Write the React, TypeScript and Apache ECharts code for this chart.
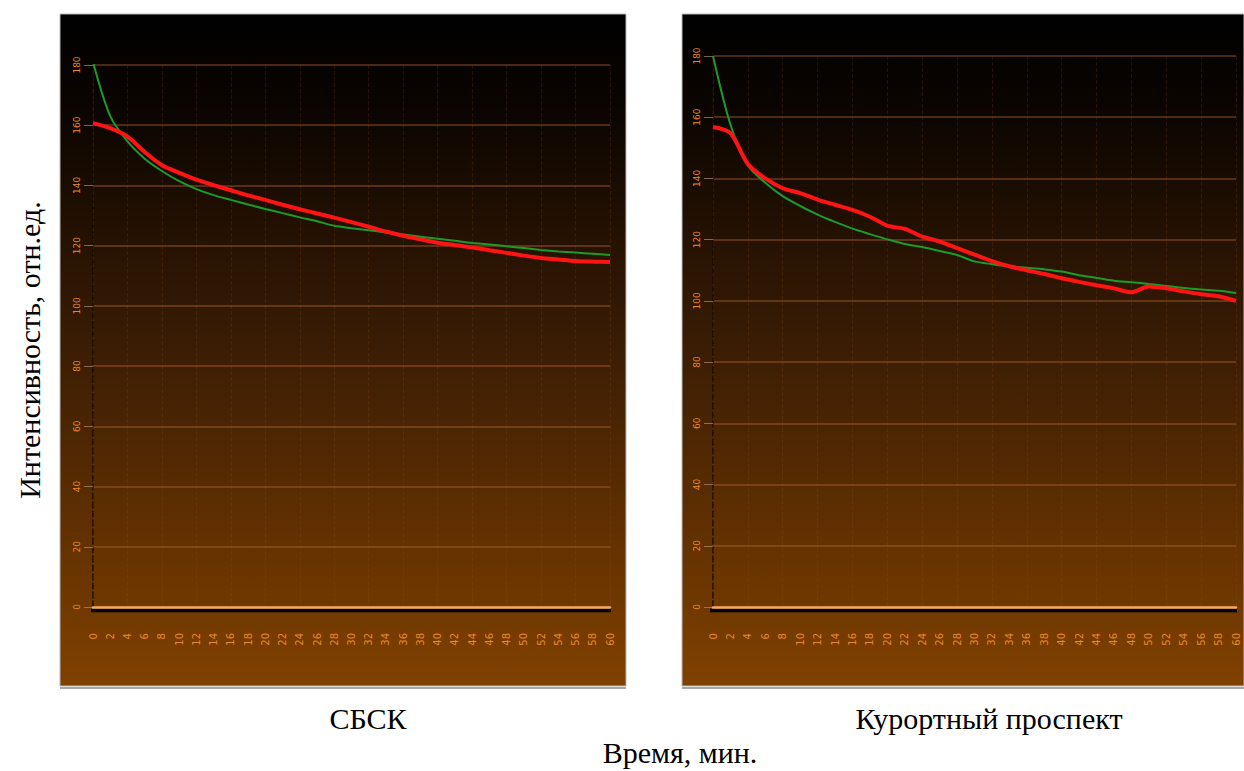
import React, { useEffect, useRef } from "react";
import * as echarts from "echarts";

// Time, min (tick labels of both panels)
const minutes: string[] = [
  "0","2","4","6","8","10","12","14","16","18","20","22","24","26","28","30",
  "32","34","36","38","40","42","44","46","48","50","52","54","56","58","60",
];

// Y scale
const yMin = 0;
const yMax = 180;
const yStep = 20;

// СБСК panel
const sbskRed: number[] = [
  160.7,159,156.2,151.1,146.7,144.2,141.9,140.1,138.4,136.7,135.2,133.6,132.1,130.7,129.3,127.8,
  126.3,124.7,123.3,122.1,121.0,120.2,119.4,118.5,117.6,116.7,115.9,115.4,114.9,114.7,114.6,
];
const sbskGreen: number[] = [
  181,163,154.6,148.9,144.8,141.4,138.8,136.8,135.2,133.7,132.2,130.8,129.4,128.1,126.6,125.8,
  125.1,124.4,123.7,123.0,122.3,121.6,120.9,120.4,119.8,119.2,118.6,118.1,117.7,117.3,116.9,
];

// Курортный проспект panel
const kurRed: number[] = [
  156.8,154.8,144.7,140.0,136.8,135.2,133.1,131.4,129.7,127.5,124.6,123.5,121.0,119.4,117.2,115.1,
  113.0,111.3,110.0,108.8,107.4,106.2,105.1,104.1,102.8,104.7,104.1,103.1,102.2,101.5,100,
];
const kurGreen: number[] = [
  180,157.6,144.2,138.6,134.2,131.0,128.2,125.8,123.6,121.8,120.1,118.6,117.6,116.3,115.0,112.9,
  112.0,111.3,110.8,110.3,109.6,108.4,107.5,106.6,106.1,105.5,104.9,104.2,103.7,103.3,102.6,
];

const panelTitles = ["СБСК", "Курортный проспект"];
const xTitle = "Время, мин.";
const yTitle = "Интенсивность, отн.ед.";

const W = 1244;
const H = 771;

export default function App() {
  const ref = useRef<HTMLDivElement>(null);

  useEffect(() => {
    if (!ref.current) return;
    const chart = echarts.init(ref.current, undefined, { renderer: "svg", width: W, height: H });

    const bgGrad = new echarts.graphic.LinearGradient(0, 0, 0, 1, [
      { offset: 0, color: "#000000" },
      { offset: 0.15, color: "#0c0500" },
      { offset: 0.5, color: "#3b1d04" },
      { offset: 0.85, color: "#6c3600" },
      { offset: 1, color: "#804100" },
    ]);

    const grids = [
      { left: 93, width: 517, top: 65, height: 542 },
      { left: 713, width: 523, top: 56, height: 551 },
    ];

    const xAxis = grids.map((_, i) => ({
      type: "category" as const,
      gridIndex: i,
      data: minutes,
      boundaryGap: false,
      z: 5,
      axisLine: {
        show: true,
        onZero: false,
        lineStyle: { color: "#f4a862", width: 2.5 },
      },
      axisTick: { show: false },
      axisLabel: {
        interval: 0,
        rotate: 90,
        color: "#e8892a",
        fontSize: 10,
        margin: 26,
        fontFamily: "DejaVu Sans",
      },
      splitLine: {
        show: true,
        interval: 1,
        lineStyle: { color: "rgba(150,90,40,0.18)", type: "dashed", width: 1 },
      },
    }));

    const yAxis = grids.map((_, i) => ({
      type: "value" as const,
      gridIndex: i,
      min: yMin,
      max: yMax,
      interval: yStep,
      axisLine: {
        show: true,
        lineStyle: { color: "#1a0b00", type: "dashed", width: 1.5 },
      },
      axisTick: {
        show: true,
        length: 9,
        lineStyle: { color: "rgba(170,140,120,0.7)", width: 1 },
      },
      axisLabel: {
        rotate: 90,
        color: "#e8892a",
        fontSize: 9,
        margin: 12,
        fontFamily: "DejaVu Sans",
      },
      splitLine: {
        show: true,
        lineStyle: { color: "rgba(190,105,45,0.5)", width: 1.5 },
      },
    }));

    const mkLine = (data: number[], idx: number, color: string, width: number, name: string) => ({
      type: "line" as const,
      name,
      xAxisIndex: idx,
      yAxisIndex: idx,
      data,
      smooth: 0.3,
      showSymbol: false,
      symbol: "none",
      lineStyle: { color, width },
    });

    const serifText = (text: string, x: number, y: number, rotation = 0) => ({
      type: "text" as const,
      x,
      y,
      rotation,
      style: {
        text,
        fill: "#000000",
        font: "30px 'Liberation Serif', 'DejaVu Serif', serif",
        textAlign: "center",
        textVerticalAlign: "middle",
      },
    });

    chart.setOption({
      animation: false,
      backgroundColor: "#ffffff",
      grid: grids,
      xAxis,
      yAxis,
      series: [
        mkLine(sbskGreen, 0, "#1e9a28", 2, "green-1"),
        mkLine(sbskRed, 0, "#ff1414", 4, "red-1"),
        mkLine(kurGreen, 1, "#1e9a28", 2, "green-2"),
        mkLine(kurRed, 1, "#ff1414", 4, "red-2"),
      ],
      graphic: [
        {
          type: "rect",
          z: -10,
          silent: true,
          shape: { x: 60, y: 14, width: 566, height: 672 },
          style: { fill: bgGrad, stroke: "#b8b8b8", lineWidth: 1 },
        },
        {
          type: "rect",
          z: -10,
          silent: true,
          shape: { x: 682, y: 14, width: 562, height: 672 },
          style: { fill: bgGrad, stroke: "#b8b8b8", lineWidth: 1 },
        },
        // black shadow under the baselines
        {
          type: "line",
          z: 0,
          silent: true,
          shape: { x1: 91, y1: 610.5, x2: 611, y2: 610.5 },
          style: { stroke: "#000000", lineWidth: 3.5 },
        },
        {
          type: "line",
          z: 0,
          silent: true,
          shape: { x1: 710, y1: 610.5, x2: 1237, y2: 610.5 },
          style: { stroke: "#000000", lineWidth: 3.5 },
        },
        {
          type: "line",
          z: -9,
          silent: true,
          shape: { x1: 60, y1: 688, x2: 626, y2: 688 },
          style: { stroke: "#a8a8a8", lineWidth: 2 },
        },
        {
          type: "line",
          z: -9,
          silent: true,
          shape: { x1: 682, y1: 688, x2: 1244, y2: 688 },
          style: { stroke: "#a8a8a8", lineWidth: 2 },
        },
        serifText(panelTitles[0], 368, 718),
        serifText(panelTitles[1], 989, 718),
        serifText(xTitle, 680, 752),
        serifText(yTitle, 29, 350, Math.PI / 2),
      ],
    });

    return () => {
      chart.dispose();
    };
  }, []);

  return (
    <div
      ref={ref}
      style={{ position: "absolute", left: 0, top: 0, width: W, height: H }}
    />
  );
}
